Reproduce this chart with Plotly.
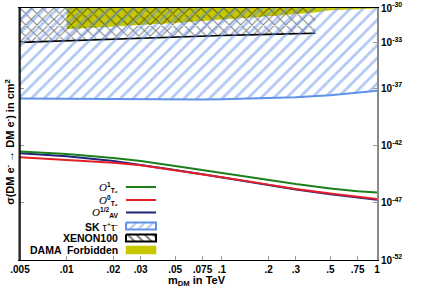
import plotly.graph_objects as go

# ---------------- data (log10 of cross-section in cm^2) ----------------
mass = [0.005, 0.01, 0.02, 0.03, 0.05, 0.075, 0.1, 0.2, 0.3, 0.5, 0.75, 1.0]
log_o1_t2 = [-42.52, -42.75, -43.1, -43.35, -43.8, -44.15, -44.42, -45.05, -45.37, -45.75, -46.0, -46.1]
log_o0_t2 = [-43.02, -43.25, -43.5, -43.73, -44.15, -44.5, -44.78, -45.42, -45.8, -46.2, -46.48, -46.67]
log_o12_av = [-42.67, -42.95, -43.35, -43.68, -44.15, -44.52, -44.8, -45.45, -45.84, -46.26, -46.55, -46.75]
log_sk = [-37.9, -37.93, -37.97, -38.0, -38.0, -37.99, -37.97, -37.9, -37.8, -37.62, -37.38, -37.22]
xenon_mass = [0.005, 0.01, 0.02, 0.05, 0.1, 0.2, 0.4]
log_xenon = [-33.0, -32.85, -32.7, -32.5, -32.4, -32.3, -32.2]
dama_mass = [0.01, 0.02, 0.05, 0.1, 0.2, 0.4, 0.5, 0.75, 1.0]
log_dama = [-31.85, -31.62, -31.3, -31.0, -30.72, -30.4, -30.2, -30.1, -30.05]
log_top = -30

x_ticks = [0.005, 0.01, 0.02, 0.03, 0.05, 0.075, 0.1, 0.2, 0.3, 0.5, 0.75, 1.0]
x_ticktext = [".005", ".01", ".02", ".03", ".05", ".075", ".1", ".2", ".3", ".5", ".75", "1"]
y_tick_exp = [-30, -33, -37, -42, -47, -52]

GREEN = "#1b801b"
RED = "#e3202a"
BLUE = "#23237e"
SKBLUE = "#5f92e8"
YELLOW = "#c8c800"
FONT = "Liberation Sans, Arial, sans-serif"


def p10(vals):
    return [10 ** v for v in vals]


def region(xs, logs):
    return xs + xs[::-1], p10(logs) + [10 ** log_top] * len(xs)


fig = go.Figure()

# DAMA (solid yellow)
dx, dy = region(dama_mass, log_dama)
fig.add_trace(go.Scatter(x=dx, y=dy, fill="toself", mode="none",
                         fillcolor=YELLOW, showlegend=False, hoverinfo="skip"))
# XENON100 (black crosshatch)
xx, xy = region(xenon_mass, log_xenon)
fig.add_trace(go.Scatter(x=xx, y=xy, fill="toself", mode="none", fillcolor="rgba(0,0,0,0)",
                         fillpattern=dict(shape="x", fgcolor="black", bgcolor="rgba(0,0,0,0)",
                                          size=8, solidity=0.25),
                         showlegend=False, hoverinfo="skip"))
fig.add_trace(go.Scatter(x=xenon_mass, y=p10(log_xenon), mode="lines",
                         line=dict(color="black", width=1.6), showlegend=False, hoverinfo="skip"))
# SK tau tau (blue hatch)
sx, sy = region(mass, log_sk)
fig.add_trace(go.Scatter(x=sx, y=sy, fill="toself", mode="none", fillcolor="rgba(0,0,0,0)",
                         fillpattern=dict(shape="/", fgcolor=SKBLUE, bgcolor="rgba(0,0,0,0)",
                                          size=9, solidity=0.3),
                         showlegend=False, hoverinfo="skip"))
fig.add_trace(go.Scatter(x=mass, y=p10(log_sk), mode="lines",
                         line=dict(color=SKBLUE, width=2), showlegend=False, hoverinfo="skip"))

# theory curves
for vals, col in [(log_o12_av, BLUE), (log_o0_t2, RED), (log_o1_t2, GREEN)]:
    fig.add_trace(go.Scatter(x=mass, y=p10(vals), mode="lines",
                             line=dict(color=col, width=2), showlegend=False, hoverinfo="skip"))

# ---------------- manual legend on an overlay pixel-like axis ----------------
leg_rows = [187, 200, 212.5, 226, 238, 250]
sx0, sx1 = 126, 156
for yy, col in zip(leg_rows[:3], [GREEN, RED, BLUE]):
    fig.add_trace(go.Scatter(x=[sx0, sx1], y=[yy, yy], mode="lines", xaxis="x2", yaxis="y2",
                             line=dict(color=col, width=2), showlegend=False, hoverinfo="skip"))


def rect(y, h=7):
    return [sx0, sx1, sx1, sx0, sx0], [y - h / 2, y - h / 2, y + h / 2, y + h / 2, y - h / 2]


rx, ry = rect(leg_rows[3])
fig.add_trace(go.Scatter(x=rx, y=ry, mode="lines", fill="toself", xaxis="x2", yaxis="y2",
                         fillcolor="rgba(0,0,0,0)", line=dict(color=SKBLUE, width=2),
                         fillpattern=dict(shape="/", fgcolor=SKBLUE, bgcolor="white", size=6, solidity=0.35),
                         showlegend=False, hoverinfo="skip"))
rx, ry = rect(leg_rows[4])
fig.add_trace(go.Scatter(x=rx, y=ry, mode="lines", fill="toself", xaxis="x2", yaxis="y2",
                         fillcolor="rgba(0,0,0,0)", line=dict(color="black", width=2),
                         fillpattern=dict(shape="\\", fgcolor="black", bgcolor="white", size=6, solidity=0.35),
                         showlegend=False, hoverinfo="skip"))
rx, ry = rect(leg_rows[5], 8)
fig.add_trace(go.Scatter(x=rx, y=ry, mode="lines", fill="toself", xaxis="x2", yaxis="y2",
                         fillcolor=YELLOW, line=dict(color=YELLOW, width=0.5),
                         showlegend=False, hoverinfo="skip"))

OSYM = "<span style='font-family:Liberation Serif;font-weight:normal;font-size:11px'><i>O</i></span>"
leg_labels = [
    OSYM + "<b><sup>1</sup><sub>T₂</sub></b>",
    OSYM + "<b><sup>0</sup><sub>T₂</sub></b>",
    OSYM + "<b><sup>1/2</sup><sub>AV</sub></b>",
    "<b>SK</b> τ<sup>+</sup>τ<sup>-</sup>",
    "<b>XENON100</b>",
    "<b>DAMA  Forbidden</b>",
]
leg_sizes = [9.5, 9.5, 9.5, 10.5, 10.5, 10.5]
annotations = []
for yy, txt, fs in zip(leg_rows, leg_labels, leg_sizes):
    annotations.append(dict(x=120, y=yy, xref="x2", yref="y2", text=txt, showarrow=False,
                            xanchor="right", yanchor="middle",
                            font=dict(family=FONT, size=fs, color="black")))

annotations.append(dict(x=-0.03, y=0.47, xref="paper", yref="paper", textangle=-90, showarrow=False,
                        text="<b>σ(DM e<sup>-</sup> → DM e<sup>-</sup>) in cm<sup>2</sup></b>",
                        xanchor="center", yanchor="middle",
                        font=dict(family=FONT, size=11, color="black")))
annotations.append(dict(x=0.496, y=-0.083, xref="paper", yref="paper", showarrow=False,
                        text="<b>m<sub>DM</sub> in TeV</b>",
                        xanchor="center", yanchor="middle",
                        font=dict(family=FONT, size=11, color="black")))

fig.update_layout(
    width=421, height=295,
    margin=dict(l=20, r=44, t=8, b=35, autoexpand=False),
    paper_bgcolor="white", plot_bgcolor="white",
    font=dict(family=FONT, size=10, color="black"),
    showlegend=False,
    annotations=annotations,
    xaxis=dict(type="log", range=[-2.30103, 0], tickvals=x_ticks, ticktext=x_ticktext,
               ticks="inside", ticklen=4, tickcolor="#999999", showgrid=False, zeroline=False,
               showline=True, linecolor="black", linewidth=1, mirror=True, automargin=False,
               tickfont=dict(family=FONT, size=10, color="black", weight="bold")),
    yaxis=dict(type="log", range=[-52, -30], side="right",
               tickvals=[10 ** e for e in y_tick_exp],
               ticktext=["10<sup>%d</sup>" % e for e in y_tick_exp],
               ticks="inside", ticklen=4, tickcolor="#999999", showgrid=False, zeroline=False,
               showline=True, linecolor="#8a8a8a", linewidth=2, mirror="ticks", automargin=False,
               tickfont=dict(family=FONT, size=10, color="black", weight="bold")),
    xaxis2=dict(overlaying="x", range=[20, 377], visible=False, anchor="y2"),
    yaxis2=dict(overlaying="y", range=[260, 8], visible=False, anchor="x2"),
    shapes=[
        dict(type="line", xref="paper", yref="paper", x0=0, x1=0, y0=0, y1=1,
             line=dict(color="black", width=1.5), layer="above"),
    ],
)

# the page body has a default 8px margin; remove it so the figure sits at the window origin
fig.write_html("out.html", config={"displayModeBar": False},
               post_script="document.body.style.margin='0px';")
